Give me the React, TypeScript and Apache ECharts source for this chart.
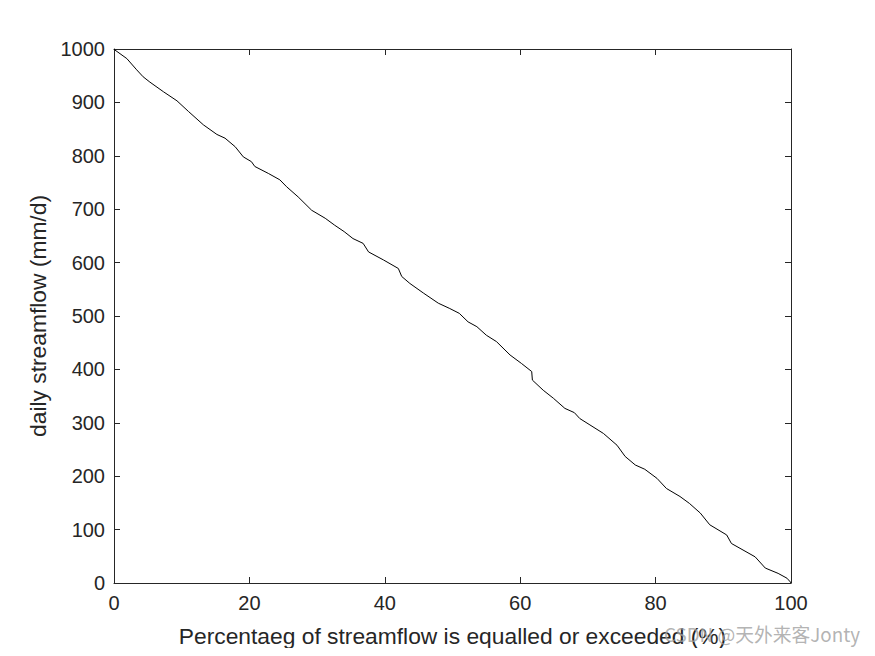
import React, { useEffect, useRef } from "react";
import * as echarts from "echarts";

const percentExceeded = [
  0, 0.15, 1.9, 3.35, 4.3, 5.3, 7.3, 9.3, 11, 13.2, 15.2, 16.4, 17.9, 19.1, 20.3, 20.8,
  22.8, 24.5, 25.5, 27.2, 29.2, 31.2, 32.6, 34, 35.3, 36.8, 37.6, 39.8, 42, 42.5, 43.7,
  45.7, 47.9, 49.6, 51, 52.3, 53.6, 55, 56.5, 58.5, 60.2, 61.7, 61.8, 63.4, 64.9, 66.6,
  68, 68.8, 70.3, 72.3, 74.3, 75.5, 77, 78.4, 80.2, 81.6, 83.6, 85, 86.6, 88, 90.5,
  91.2, 94.7, 96.2, 98.1, 99.4, 99.9, 100,
];
const streamflow = [
  1000, 998, 982, 961, 948, 938, 920, 903, 883, 858, 840, 833, 817, 798, 789, 780,
  767, 755, 742, 723, 698, 683, 670, 658, 645, 636, 620, 605, 589, 574, 561,
  543, 524, 514, 505, 489, 480, 464, 452, 427, 411, 396, 380, 361, 346, 327,
  319, 308, 296, 280, 258, 237, 221, 213, 196, 177, 162, 149, 131, 109, 90,
  74, 49, 28, 18, 9, 2, 0,
];
const xTicks = [0, 20, 40, 60, 80, 100];
const yTicks = [0, 100, 200, 300, 400, 500, 600, 700, 800, 900, 1000];

const xTitle = "Percentaeg of streamflow is equalled or exceeded (%)";
const yTitle = "daily streamflow (mm/d)";
const watermark = "CSDN @天外来客Jonty";

const AXIS_COLOR = "#262626";
const FONT = "'Liberation Sans', Arial, sans-serif";

export default function App() {
  const ref = useRef<HTMLDivElement>(null);
  useEffect(() => {
    if (!ref.current) return;
    const chart = echarts.init(ref.current, undefined, { renderer: "svg" });
    const lineStyle = { color: AXIS_COLOR, width: 1 };
    const tick = { show: true, inside: true, length: 6, lineStyle };
    const fmt = (v: number) => String(v);
    const baseX = {
      type: "value" as const,
      min: xTicks[0],
      max: xTicks[xTicks.length - 1],
      interval: 20,
      splitLine: { show: false },
      axisLine: { show: true, onZero: false, lineStyle },
      axisTick: tick,
    };
    const baseY = {
      type: "value" as const,
      min: yTicks[0],
      max: yTicks[yTicks.length - 1],
      interval: 100,
      splitLine: { show: false },
      axisLine: { show: true, onZero: false, lineStyle },
      axisTick: tick,
    };
    chart.setOption({
      animation: false,
      backgroundColor: "#ffffff",
      textStyle: { fontFamily: FONT },
      grid: { left: 114, top: 49, right: 84, bottom: 73, containLabel: false },
      xAxis: [
        {
          ...baseX,
          position: "bottom",
          name: xTitle,
          nameLocation: "middle",
          nameGap: 41,
          nameTextStyle: { color: AXIS_COLOR, fontSize: 22.8, fontFamily: FONT },
          axisLabel: { color: AXIS_COLOR, fontSize: 20, margin: 10, fontFamily: FONT, formatter: fmt },
        },
        { ...baseX, position: "top", axisLabel: { show: false } },
      ],
      yAxis: [
        {
          ...baseY,
          position: "left",
          name: yTitle,
          nameLocation: "middle",
          nameGap: 61,
          nameTextStyle: { color: AXIS_COLOR, fontSize: 22.8, fontFamily: FONT },
          axisLabel: { color: AXIS_COLOR, fontSize: 20, margin: 9, fontFamily: FONT, formatter: fmt },
        },
        { ...baseY, position: "right", axisLabel: { show: false } },
      ],
      series: [
        {
          type: "line",
          xAxisIndex: 0,
          yAxisIndex: 0,
          data: percentExceeded.map((x, i) => [x, streamflow[i]]),
          showSymbol: false,
          symbol: "none",
          lineStyle: { color: "#000000", width: 1 },
        },
      ],
      graphic: [
        {
          type: "text",
          left: 664,
          top: 624,
          z: 100,
          style: {
            text: watermark,
            fill: "rgba(160,160,160,0.8)",
            fontSize: 18.8,
            fontFamily: "'Noto Sans CJK SC', 'Liberation Sans', sans-serif",
          },
        },
      ],
    });
    return () => chart.dispose();
  }, []);
  return <div ref={ref} style={{ width: 875, height: 656, margin: -8 }} />;
}
